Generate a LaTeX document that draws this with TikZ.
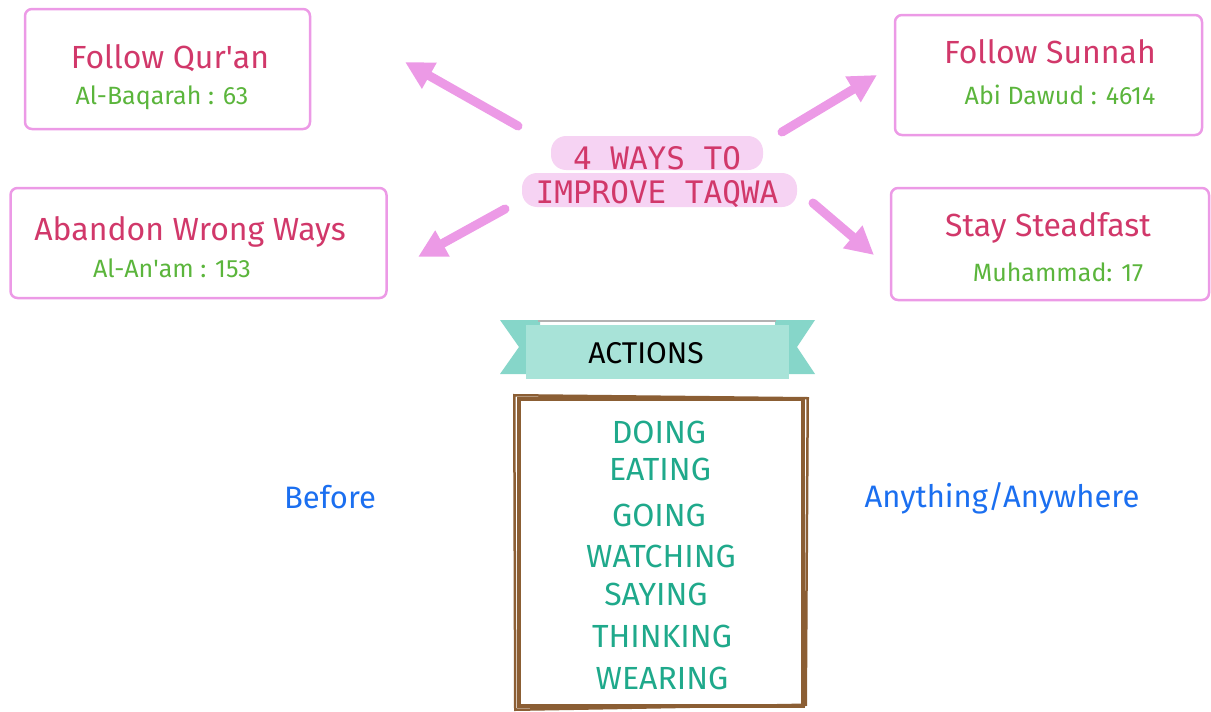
\documentclass[tikz,border=0pt]{standalone}
\usepackage{fontspec}
\setmainfont{Fira Sans}
\setmonofont{DejaVu Sans Mono}
\usetikzlibrary{arrows.meta}
\definecolor{pinkline}{HTML}{EC9AE6}
\definecolor{redtxt}{HTML}{D1386A}
\definecolor{greentxt}{HTML}{5BB53C}
\definecolor{pillfill}{HTML}{F6D3F3}
\definecolor{bluetxt}{HTML}{1B6FF0}
\definecolor{tealtxt}{HTML}{1FA98B}
\definecolor{ribbon}{HTML}{A8E3D8}
\definecolor{ribbontail}{HTML}{86D6C9}
\definecolor{brownline}{HTML}{8B5E34}
\tikzset{
  waybox/.style={draw=pinkline, line width=2.5pt, rounded corners=7pt, inner sep=0pt},
  waytitle/.style={text=redtxt, font=\fontsize{32}{36}\selectfont, inner sep=0pt},
  wayref/.style={text=greentxt, font=\fontsize{25}{28}\selectfont, inner sep=0pt},
  pill/.style={fill=pillfill, rounded corners=15pt, inner sep=0pt},
  pilltxt/.style={text=redtxt, font=\ttfamily\fontsize{31}{34}\selectfont, inner sep=0pt},
  bigarrow/.style={draw=pinkline, line width=9pt, line cap=round, -{Triangle[length=28pt,width=28pt]}},
  actword/.style={text=tealtxt, font=\fontsize{32}{36}\selectfont, inner sep=0pt},
  sidetxt/.style={text=bluetxt, font=\fontsize{31}{34}\selectfont, inner sep=0pt},
}
\begin{document}
\begin{tikzpicture}[x=1pt,y=-1pt]
\useasboundingbox (0,0) rectangle (1211,712);
% boxes
\node[waybox, minimum width=285pt, minimum height=120pt] (quran) at (167.5,69) {};
\node[waybox, minimum width=307pt, minimum height=120pt] (sunnah) at (1048.5,75) {};
\node[waybox, minimum width=376pt, minimum height=110pt] (abandon) at (198.5,243) {};
\node[waybox, minimum width=318pt, minimum height=112pt] (steadfast) at (1050,244) {};
\node[waytitle] (quranT) at (170,58) {Follow Qur\textquotesingle an};
\node[wayref] (quranR) at (162,98) {Al-Baqarah : 63};
\node[waytitle] (sunnahT) at (1050,52) {Follow Sunnah};
\node[wayref] (sunnahR) at (1060,95) {Abi Dawud : 4614};
\node[waytitle] (abandonT) at (190,232) {Abandon Wrong Ways};
\node[wayref] (abandonR) at (172,268) {Al-An\textquotesingle am : 153};
\node[waytitle] (steadT) at (1048,228) {Stay Steadfast};
\node[wayref] (steadR) at (1058,272) {Muhammad: 17};
% center
\node[pill, minimum width=212pt, minimum height=34pt] (pill1) at (657,153) {};
\node[pill, minimum width=275pt, minimum height=34pt] (pill2) at (659.5,190) {};
\node[pilltxt] (t1) at (657,158) {4 WAYS TO};
\node[pilltxt] (t2) at (657,194) {IMPROVE TAQWA};
% arrows
\coordinate (a1s) at (518,126);
\coordinate (a1e) at (405,62);
\coordinate (a2s) at (782,132);
\coordinate (a2e) at (877,75);
\coordinate (a3s) at (505,209);
\coordinate (a3e) at (418,257);
\coordinate (a4s) at (813,203);
\coordinate (a4e) at (874,255);
\draw[bigarrow] (a1s) -- (a1e);
\draw[bigarrow] (a2s) -- (a2e);
\draw[bigarrow] (a3s) -- (a3e);
\draw[bigarrow] (a4s) -- (a4e);
% ribbon
\fill[ribbontail] (500,320) -- (540,320) -- (540,374) -- (500,374) -- (519,347) -- cycle;
\fill[ribbontail] (815,320) -- (775,320) -- (775,374) -- (815,374) -- (797,347) -- cycle;
\draw[gray!60, line width=1.5pt] (538,321) -- (776,321);
\node[fill=ribbon, minimum width=263pt, minimum height=54pt, inner sep=0pt] (banner) at (657.5,352) {};
\node[text=black, font=\fontsize{30}{34}\selectfont, inner sep=0pt] (actions) at (646,353) {ACTIONS};
% brown box
\node[draw=brownline, line width=3.5pt, minimum width=284pt, minimum height=307pt, inner sep=0pt] (actbox) at (661,552.5) {};
\draw[brownline, line width=2.5pt] ([shift={(-3pt,2pt)}]actbox.north west) -- ([shift={(3pt,-1pt)}]actbox.north east) -- ([shift={(1pt,3pt)}]actbox.south east) -- ([shift={(-2pt,-2pt)}]actbox.south west) -- cycle;
\node[actword] (w1) at (659,432) {DOING};
\node[actword] (w2) at (660,469) {EATING};
\node[actword] (w3) at (659,515) {GOING};
\node[actword] (w4) at (661,556) {WATCHING};
\node[actword] (w5) at (656,594) {SAYING};
\node[actword] (w6) at (662,636) {THINKING};
\node[actword] (w7) at (662,678) {WEARING};
% side texts
\node[sidetxt] (before) at (330,497) {Before};
\node[sidetxt] (anything) at (1002,498) {Anything/Anywhere};
\end{tikzpicture}
\end{document}
